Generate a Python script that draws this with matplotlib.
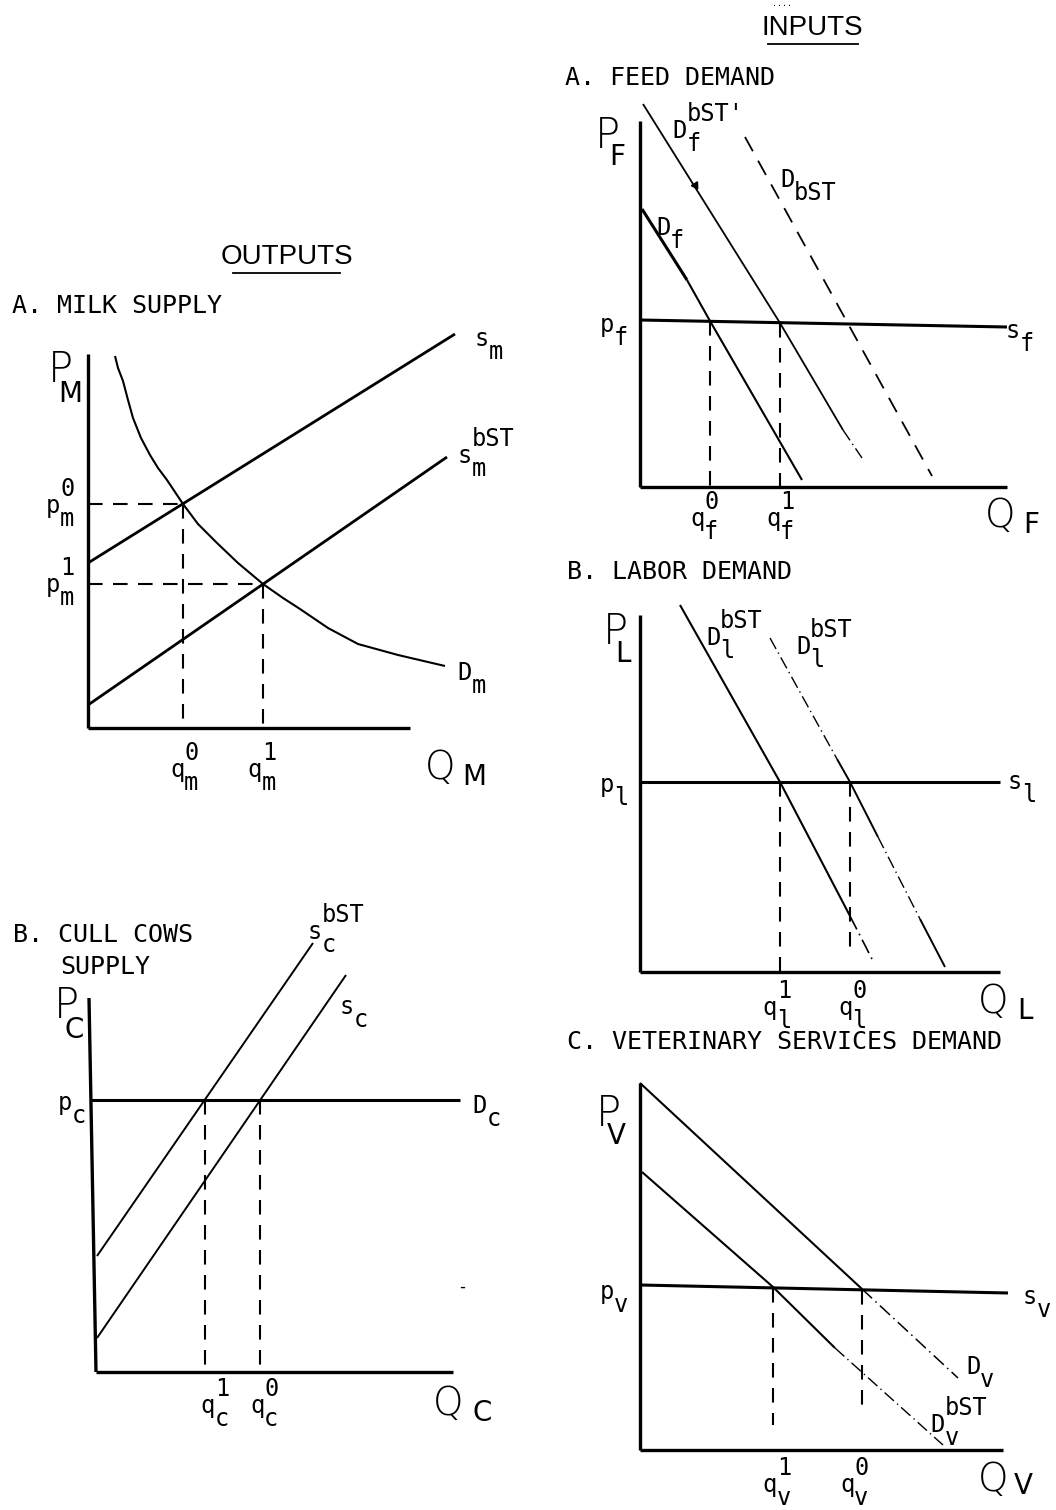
import matplotlib
matplotlib.use('Agg')
import matplotlib.pyplot as plt
from matplotlib.transforms import offset_copy

# ---- data (panel units: 1 unit = 1 px from the panel origin, q to the right, p up)

# OUTPUTS  A. milk supply
milk_sm_q = [0, 367]
milk_sm_p = [165, 394]
milk_sbst_q = [0, 359]
milk_sbst_p = [23, 271]
milk_dm_q = [27, 30, 35, 40, 45, 53, 62, 70, 79, 87, 95, 110, 129, 150, 175,
             195, 212, 240, 270, 310, 357]
milk_dm_p = [372, 360, 347, 328, 310, 290, 273, 260, 248, 236, 224, 204, 185,
             165, 144, 130, 119, 100, 84, 73, 62]
milk_eq_q = [95, 175]
milk_eq_p = [224, 144]

# OUTPUTS  B. cull cows supply
cull_sbst_q = [1, 217]
cull_sbst_p = [116, 429]
cull_sc_q = [1, 250]
cull_sc_p = [34, 397]
cull_dc_q = [-6, 364]
cull_pc = 272
cull_eq_q = [109, 164]

# INPUTS  A. feed demand
feed_sf_q = [0, 367]
feed_sf_p = [167, 160]
feed_df_q = [2, 47, 70, 162]
feed_df_p = [278, 207, 166, 7]
feed_dbst1_q = [3, 140, 203, 222]
feed_dbst1_p = [383, 164, 57, 29]
feed_dbst_q = [105, 292]
feed_dbst_p = [350, 11]
feed_eq_q = [70, 140]
feed_eq_p = [166, 164]

# INPUTS  B. labor demand
lab_sl_q = [0, 360]
lab_sl_p = [190, 190]
lab_d1_q = [40, 140, 210, 233]
lab_d1_p = [367, 190, 56, 11]
lab_d2_q = [130, 197, 210, 238, 280, 305]
lab_d2_p = [334, 213, 190, 135, 53, 5]
lab_eq_q = [140, 210]
lab_eq_lo = [0, 23]

# INPUTS  C. veterinary services demand
vet_sv_q = [0, 368]
vet_sv_p = [165, 157]
vet_dv_q = [0, 222, 318]
vet_dv_p = [367, 161, 72]
vet_dbst_q = [2, 133, 195, 303]
vet_dbst_p = [278, 163, 102, 5]
vet_eq_q = [133, 222]
vet_eq_p = [162, 160]
vet_eq_lo = [25, 37]

MONO = 'DejaVu Sans Mono'
PX = 72 / 100.0
DASH = (0, (7, 5))
DASHDOT = (0, (9, 3, 1, 3))

fig = plt.figure(figsize=(10.56, 15.10), dpi=100)


def panel(ox, oy, w, h):
    ax = fig.add_axes([ox / 1056, 1 - oy / 1510, w / 1056, h / 1510])
    ax.set_xlim(0, w)
    ax.set_ylim(0, h)
    ax.axis('off')
    return ax


def seg(ax, q, p, lw=1.4, ls='-'):
    ax.plot(q, p, color='black', lw=lw, ls=ls, clip_on=False,
            solid_capstyle='butt', dash_capstyle='butt')


def axes_lines(ax, w, h, top_q=0):
    seg(ax, [top_q, 0], [h, 0], lw=2.4)
    seg(ax, [0, w], [0, 0], lw=2.4)


def mark(ax, x, y, main, sub='', sup='', size=17):
    ax.text(x, y, main, fontsize=size, family=MONO, ha='center', va='center')
    if sup:
        tr = offset_copy(ax.transData, fig=fig, x=7 * PX, y=17 * PX, units='points')
        ax.text(x, y, sup, transform=tr, fontsize=size, family=MONO,
                ha='left', va='center')
    if sub:
        tr = offset_copy(ax.transData, fig=fig, x=7 * PX, y=-13 * PX, units='points')
        ax.text(x, y, sub, transform=tr, fontsize=size, family=MONO,
                ha='left', va='center')


def big(ax, x, y, main, sub, dx, dy, size=30, subsize=20):
    ax.text(x, y, main, fontsize=size, family='DejaVu Sans', fontweight='light',
            ha='center', va='center')
    tr = offset_copy(ax.transData, fig=fig, x=dx * PX, y=dy * PX, units='points')
    ax.text(x, y, sub, transform=tr, fontsize=subsize, family='DejaVu Sans',
            ha='center', va='center')


def heading(x, y, s, size=18):
    fig.text(x / 1056, 1 - y / 1510, s, fontsize=size, family=MONO,
             ha='left', va='center')


def title(xc, y, s, x0, x1):
    fig.text(xc / 1056, 1 - y / 1510, s, fontsize=20, family='Liberation Sans',
             ha='center', va='center')
    fig.add_artist(plt.Line2D([x0 / 1056, x1 / 1056], [1 - (y + 16) / 1510] * 2,
                              color='black', lw=1.3))


# ---------- titles
title(287, 257, 'OUTPUTS', 233, 340)
title(812, 28, 'INPUTS', 768, 858)
fig.text(782 / 1056, 1 - 4 / 1510, '....', fontsize=6, family=MONO,
         ha='center', va='center')
heading(12, 306, 'A. MILK SUPPLY')
heading(13, 935, 'B. CULL COWS')
heading(60, 967, 'SUPPLY')
heading(565, 78, 'A. FEED DEMAND')
heading(567, 572, 'B. LABOR DEMAND')
heading(567, 1042, 'C. VETERINARY SERVICES DEMAND')
fig.text(462 / 1056, 1 - 1287 / 1510, '-', fontsize=12, family=MONO,
         ha='center', va='center')

# ---------- A. milk supply
ax = panel(88, 728, 322, 374)
axes_lines(ax, 322, 374)
seg(ax, milk_sm_q, milk_sm_p, lw=2.0)
seg(ax, milk_sbst_q, milk_sbst_p, lw=2.0)
seg(ax, milk_dm_q, milk_dm_p, lw=1.5)
for q, p in zip(milk_eq_q, milk_eq_p):
    seg(ax, [0, q], [p, p], lw=1.5, ls=DASH)
    seg(ax, [q, q], [p, 0], lw=1.5, ls=DASH)
big(ax, -28, 358, 'P', 'M', 10, -24)
big(ax, 352, -40, 'Q', 'M', 34, -9, size=28)
mark(ax, -35, 222, 'p', 'm', '0')
mark(ax, -35, 143, 'p', 'm', '1')
mark(ax, 89, -42, 'q', 'm', '0')
mark(ax, 167, -42, 'q', 'm', '1')
mark(ax, 394, 389, 's', 'm')
mark(ax, 377, 272, 's', 'm', 'bST')
mark(ax, 377, 55, 'D', 'm')

# ---------- B. cull cows supply
ax = panel(96, 1372, 357, 374)
axes_lines(ax, 357, 374, top_q=-7)
seg(ax, cull_dc_q, [cull_pc, cull_pc], lw=2.2)
seg(ax, cull_sbst_q, cull_sbst_p, lw=1.4)
seg(ax, cull_sc_q, cull_sc_p, lw=1.4)
for q in cull_eq_q:
    seg(ax, [q, q], [cull_pc, 0], lw=1.5, ls=DASH)
big(ax, -30, 367, 'P', 'C', 8, -25)
big(ax, 352, -32, 'Q', 'C', 34, -9, size=28)
mark(ax, -31, 269, 'p', 'c')
mark(ax, 219, 440, 's', 'c', 'bST')
mark(ax, 251, 365, 's', 'c')
mark(ax, 384, 266, 'D', 'c')
mark(ax, 112, -34, 'q', 'c', '1')
mark(ax, 161, -34, 'q', 'c', '0')

# ---------- A. feed demand
ax = panel(640, 487, 367, 366)
axes_lines(ax, 367, 366)
seg(ax, feed_sf_q, feed_sf_p, lw=2.2)
seg(ax, feed_df_q[:2], feed_df_p[:2], lw=2.2)
seg(ax, feed_df_q[1:], feed_df_p[1:], lw=1.5)
seg(ax, feed_dbst1_q[:3], feed_dbst1_p[:3], lw=1.3)
seg(ax, feed_dbst1_q[2:], feed_dbst1_p[2:], lw=1.0, ls=DASHDOT)
ax.plot([55], [302], marker=(3, 0, -148), ms=6, color='black', clip_on=False)
seg(ax, feed_dbst_q, feed_dbst_p, lw=1.3, ls=(0, (9, 6)))
for q, p in zip(feed_eq_q, feed_eq_p):
    seg(ax, [q, q], [p, 0], lw=1.5, ls=DASH)
big(ax, -33, 352, 'P', 'F', 10, -22)
big(ax, 360, -29, 'Q', 'F', 31, -9, size=28)
mark(ax, -33, 162, 'p', 'f')
mark(ax, 40, 356, 'D', 'f', "bST'")
mark(ax, 147, 307, 'D', 'bST')
mark(ax, 23, 259, 'D', 'f')
mark(ax, 373, 156, 's', 'f')
mark(ax, 57, -32, 'q', 'f', '0')
mark(ax, 133, -32, 'q', 'f', '1')

# ---------- B. labor demand
ax = panel(640, 972, 360, 357)
axes_lines(ax, 360, 357)
seg(ax, lab_sl_q, lab_sl_p, lw=2.2)
seg(ax, lab_d1_q[:3], lab_d1_p[:3], lw=1.5)
seg(ax, lab_d1_q[2:], lab_d1_p[2:], lw=1.2, ls=DASHDOT)
seg(ax, lab_d2_q[:2], lab_d2_p[:2], lw=1.0, ls=DASHDOT)
seg(ax, lab_d2_q[1:4], lab_d2_p[1:4], lw=1.4)
seg(ax, lab_d2_q[3:5], lab_d2_p[3:5], lw=1.0, ls=DASHDOT)
seg(ax, lab_d2_q[4:], lab_d2_p[4:], lw=1.4)
for q, lo in zip(lab_eq_q, lab_eq_lo):
    seg(ax, [q, q], [190, lo], lw=1.5, ls=DASH)
big(ax, -25, 340, 'P', 'L', 8, -22)
big(ax, 353, -30, 'Q', 'L', 32, -9, size=28)
mark(ax, -33, 187, 'p', 'l')
mark(ax, 73, 334, 'D', 'l', 'bST')
mark(ax, 163, 325, 'D', 'l', 'bST')
mark(ax, 375, 190, 's', 'l')
mark(ax, 130, -36, 'q', 'l', '1')
mark(ax, 205, -36, 'q', 'l', '0')

# ---------- C. veterinary services demand
ax = panel(640, 1450, 363, 367)
axes_lines(ax, 363, 367)
seg(ax, vet_sv_q, vet_sv_p, lw=2.2)
seg(ax, vet_dv_q[:2], vet_dv_p[:2], lw=1.5)
seg(ax, vet_dv_q[1:], vet_dv_p[1:], lw=1.1, ls=DASHDOT)
seg(ax, vet_dbst_q[:3], vet_dbst_p[:3], lw=1.5)
seg(ax, vet_dbst_q[2:], vet_dbst_p[2:], lw=1.0, ls=DASHDOT)
for q, p, lo in zip(vet_eq_q, vet_eq_p, vet_eq_lo):
    seg(ax, [q, q], [p, lo], lw=1.5, ls=DASH)
big(ax, -32, 336, 'P', 'V', 8, -22)
big(ax, 353, -30, 'Q', 'V', 30, -6, size=28)
mark(ax, -33, 158, 'p', 'v')
mark(ax, 390, 153, 's', 'v')
mark(ax, 333, 83, 'D', 'v')
mark(ax, 298, 25, 'D', 'v', 'bST')
mark(ax, 130, -35, 'q', 'v', '1')
mark(ax, 207, -35, 'q', 'v', '0')

fig.savefig('out.png', dpi=100, facecolor='white')
